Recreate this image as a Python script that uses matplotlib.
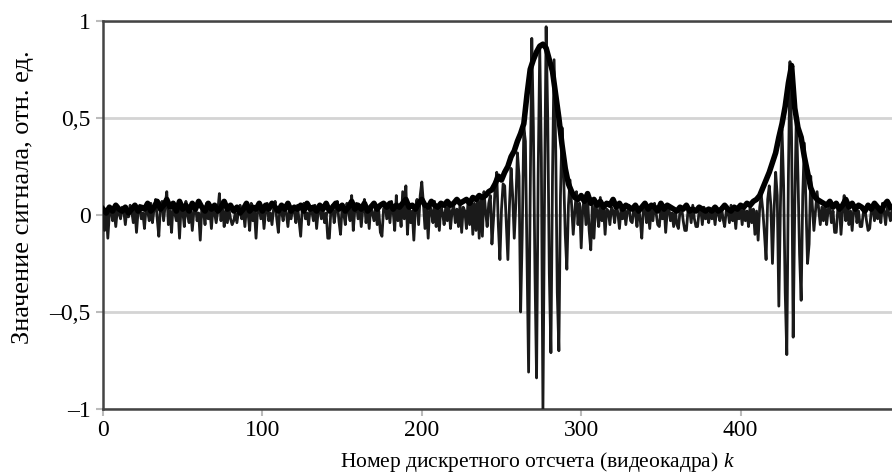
import numpy as np
import matplotlib
matplotlib.use("Agg")
import matplotlib.pyplot as plt

# thin line: sampled signal, one value per video frame k = 0..495
signal = [
    # k 0-239, background noise
    0.02, -0.08, 0.03, -0.12, 0.01, 0.04, -0.03, 0.02, -0.06, 0.03, 0.01, -0.02, 0.04, 0.02, -0.05, 0.03, -0.01, 0.05, 0.02, -0.04,
    0.03, -0.09, 0.02, 0.05, -0.02, 0.01, -0.07, 0.04, 0.02, -0.03, 0.06, -0.04, 0.03, 0.08, -0.02, -0.11, 0.04, 0.07, -0.03, 0.05,
    0.12, -0.05, 0.02, -0.09, 0.06, 0.01, -0.03, 0.04, -0.12, 0.05, 0.02, -0.06, 0.07, 0.00, -0.04, 0.03, -0.08, 0.02, 0.05, -0.03,
    0.01, -0.13, 0.04, 0.02, -0.05, 0.06, -0.02, 0.03, -0.07, 0.04, 0.01, -0.04, 0.02, 0.11, -0.03, 0.05, -0.06, 0.02, -0.04, 0.03,
    -0.02, -0.05, -0.03, 0.01, -0.04, 0.02, 0.05, -0.02, 0.03, -0.06, 0.04, 0.01, -0.08, 0.06, -0.03, 0.02, -0.12, 0.03, 0.05, -0.02,
    0.04, -0.07, 0.02, 0.06, -0.03, 0.01, -0.05, 0.03, 0.07, -0.02, -0.09, 0.04, 0.02, -0.03, 0.05, 0.01, -0.06, 0.03, -0.02, 0.04,
    0.02, -0.04, 0.05, -0.03, -0.11, 0.03, 0.06, -0.02, 0.01, -0.05, 0.04, 0.02, -0.03, 0.05, -0.07, 0.02, 0.04, -0.02, 0.03, -0.04,
    0.01, -0.12, -0.12, 0.03, 0.05, -0.04, 0.02, 0.07, -0.03, -0.10, 0.04, 0.01, -0.05, 0.06, 0.02, -0.03, 0.10, -0.08, 0.03, 0.06,
    -0.02, 0.04, -0.06, 0.03, 0.08, -0.04, 0.02, -0.07, 0.05, 0.01, -0.03, 0.04, -0.05, 0.02, -0.09, -0.11, 0.03, 0.06, -0.02, 0.05,
    -0.04, 0.07, 0.02, -0.08, 0.10, -0.03, 0.04, -0.06, 0.12, -0.02, 0.15, -0.10, 0.05, -0.04, 0.02, -0.13, 0.04, 0.08, -0.05, 0.10,
    0.17, 0.06, -0.07, 0.03, -0.12, 0.05, 0.02, -0.04, 0.07, -0.06, 0.03, -0.08, 0.05, 0.01, -0.05, 0.04, -0.03, 0.06, -0.07, 0.02,
    0.05, -0.04, 0.03, -0.06, 0.06, -0.09, 0.04, 0.02, -0.07, 0.07, -0.05, 0.08, -0.10, 0.06, -0.08, 0.09, -0.12, 0.10, -0.11, 0.12,
    # k 240-299, first wave packet
    0.02, -0.06, 0.06, 0.10, -0.15, -0.02, 0.14, 0.22, -0.05, -0.23,
    0.03, 0.16, 0.15, -0.04, -0.23, 0.05, 0.24, 0.10, -0.12, 0.06,
    0.32, 0.20, -0.50, -0.10, 0.45, 0.38, -0.20, -0.81, 0.10, 0.91,
    0.45, -0.30, -0.84, 0.20, 0.86, 0.30, -1.00, 0.10, 0.97, 0.50,
    -0.30, -0.71, 0.20, 0.80, 0.35, -0.40, -0.70, 0.10, 0.45, 0.20,
    -0.10, -0.28, 0.05, 0.18, 0.05, -0.10, 0.02, 0.12, -0.05, 0.06,
    # k 300-409, noise between packets
    -0.17, 0.04, 0.08, -0.05, 0.10, -0.08, -0.18, 0.06, -0.12, 0.05, 0.02, -0.06, 0.09, -0.03, 0.04, -0.10, 0.03, 0.02, -0.05, 0.04,
    0.02, -0.04, 0.06, 0.01, -0.07, 0.03, -0.02, 0.04, -0.05, 0.02, 0.05, -0.03, -0.04, 0.03, 0.01, -0.06, 0.04, -0.02, -0.12, 0.03,
    0.05, -0.04, 0.02, -0.07, 0.04, -0.03, 0.06, 0.01, -0.05, -0.06, 0.03, -0.02, 0.05, -0.09, 0.02, 0.04, -0.03, 0.01, -0.06, 0.03,
    -0.05, -0.07, 0.02, 0.04, -0.03, -0.08, -0.08, 0.02, 0.03, -0.04, 0.05, -0.02, -0.06, -0.06, 0.02, 0.03, -0.05, 0.04, -0.02, 0.01,
    -0.04, 0.03, -0.02, 0.02, -0.05, 0.03, 0.01, -0.03, 0.04, -0.02, -0.06, 0.02, 0.03, -0.04, 0.05, -0.03, 0.02, -0.07, 0.04, -0.02,
    0.03, -0.05, 0.04, -0.03, 0.02, -0.06, 0.05, -0.04, 0.03, -0.10,
    # k 410-450, second wave packet
    0.02, -0.13, 0.04, 0.10, 0.02, -0.10, -0.23, 0.08, 0.15, 0.05,
    -0.25, 0.02, 0.22, 0.10, -0.47, 0.05, 0.44, 0.15, -0.40, -0.72,
    0.20, 0.79, 0.40, -0.63, 0.05, 0.53, 0.20, -0.20, -0.44, 0.10,
    0.37, 0.05, -0.25, -0.15, 0.20, 0.05, -0.08, 0.02, 0.12, 0.03,
    -0.05,
    # k 451-495, tail noise
    0.04, -0.03, 0.06, -0.05, 0.03, 0.05, -0.04, 0.02, -0.09, -0.09, 0.03, 0.05, -0.10, 0.02, 0.10, -0.03, 0.06, -0.05, 0.02, -0.08,
    0.03, 0.05, -0.04, 0.02, -0.06, -0.06, 0.01, 0.03, -0.03, -0.08, -0.07, 0.02, 0.04, -0.03, 0.05, -0.02, 0.03, -0.04, 0.06, 0.02,
    -0.05, 0.04, 0.01, -0.03, 0.03,
]

# thick line: signal envelope, every second frame k = 0, 2, ..., 494
envelope = [
    0.03, 0.01, 0.04, 0.02, 0.05, 0.03, 0.02, 0.04, 0.01, 0.03, 0.05, 0.02, 0.04, 0.03, 0.06, 0.02, 0.04, 0.07, 0.03, 0.05,
    0.08, 0.04, 0.06, 0.02, 0.07, 0.03, 0.05, 0.02, 0.06, 0.03, 0.07, 0.04, 0.02, 0.06, 0.03, 0.05, 0.02, 0.04, 0.07, 0.03,
    0.05, 0.02, 0.04, 0.01, 0.03, 0.06, 0.02, 0.04, 0.03, 0.06, 0.02, 0.05, 0.03, 0.06, 0.04, 0.02, 0.05, 0.03, 0.06, 0.02,
    0.04, 0.03, 0.05, 0.02, 0.06, 0.03, 0.04, 0.02, 0.05, 0.03, 0.06, 0.02, 0.04, 0.06, 0.03, 0.05, 0.02, 0.04, 0.07, 0.03,
    0.05, 0.03, 0.06, 0.02, 0.04, 0.06, 0.03, 0.05, 0.06, 0.04, 0.06, 0.03, 0.05, 0.04, 0.06, 0.08, 0.04, 0.05, 0.03, 0.06,
    0.08, 0.05, 0.04, 0.07, 0.05, 0.04, 0.06, 0.05, 0.07, 0.05, 0.06, 0.08, 0.06, 0.07, 0.08, 0.06, 0.09, 0.08, 0.10, 0.09,
    # first packet, k 240-298
    0.10, 0.12, 0.13, 0.16, 0.20, 0.18, 0.22, 0.25, 0.30, 0.33,
    0.38, 0.42, 0.47, 0.62, 0.75, 0.80, 0.84, 0.87, 0.88, 0.86,
    0.80, 0.74, 0.62, 0.50, 0.36, 0.24, 0.16, 0.12, 0.09, 0.08,
    # k 300-408
    0.10, 0.07, 0.11, 0.06, 0.08, 0.05, 0.07, 0.04, 0.06, 0.05, 0.08, 0.04, 0.06, 0.03, 0.05, 0.04, 0.03, 0.05, 0.02, 0.04,
    0.06, 0.03, 0.05, 0.04, 0.02, 0.06, 0.03, 0.05, 0.04, 0.03, 0.02, 0.04, 0.03, 0.05, 0.02, 0.03, 0.02, 0.04, 0.03, 0.02,
    0.03, 0.02, 0.04, 0.02, 0.03, 0.05, 0.03, 0.02, 0.04, 0.03, 0.05, 0.04, 0.06, 0.05, 0.07,
    # second packet, k 410-450
    0.08, 0.10, 0.14, 0.18, 0.22, 0.27, 0.32, 0.40, 0.47, 0.56,
    0.68, 0.77, 0.55, 0.45, 0.40, 0.30, 0.22, 0.14, 0.10, 0.08,
    0.07,
    # k 452-494
    0.06, 0.05, 0.07, 0.04, 0.06, 0.03, 0.05, 0.08, 0.04, 0.06, 0.03, 0.05, 0.04, 0.02, 0.05, 0.03, 0.06, 0.04, 0.02, 0.05,
    0.07, 0.04,
]

x_ticks = [0, 100, 200, 300, 400]
y_ticks = [-1, -0.5, 0, 0.5, 1]
y_tick_labels = ["–1", "–0,5", "0", "0,5", "1"]
x_label = "Номер дискретного отсчета (видеокадра) $k$"
y_label = "Значение сигнала, отн. ед."

plt.rcParams["font.family"] = ["Liberation Serif", "DejaVu Serif"]
plt.rcParams["mathtext.fontset"] = "custom"
plt.rcParams["mathtext.rm"] = "Liberation Serif"
plt.rcParams["mathtext.it"] = "Liberation Serif:italic"

k = np.arange(len(signal))
k_env = np.arange(len(envelope)) * 2

fig = plt.figure(figsize=(8.92, 4.75), dpi=100)
ax = fig.add_axes([0.1155, 0.139, 0.8845, 0.817])

ax.plot(k, signal, color="#1a1a1a", lw=2.0, zorder=3)
ax.plot(k_env, envelope, color="black", lw=4.0, zorder=4)

ax.set_xlim(0, 495)
ax.set_ylim(-1, 1)
ax.set_xticks(x_ticks)
ax.set_yticks(y_ticks)
ax.set_yticklabels(y_tick_labels)
ax.grid(axis="y", color="#d4d4d4", lw=2)
ax.set_axisbelow(True)

for side in ["left", "top", "bottom"]:
    ax.spines[side].set_color("#444444")
    ax.spines[side].set_linewidth(1.8)
ax.spines["right"].set_visible(False)
ax.tick_params(axis="both", direction="out", length=5, width=1.5,
               color="#bbbbbb", labelsize=17, pad=4)
ax.tick_params(axis="x", pad=3)

ax.set_xlabel(x_label, fontsize=15.5)
ax.xaxis.set_label_coords(0.551, -0.106)
ax.set_ylabel(y_label, fontsize=19)
ax.yaxis.set_label_coords(-0.088, 0.546)

fig.savefig("out.png", dpi=100)
